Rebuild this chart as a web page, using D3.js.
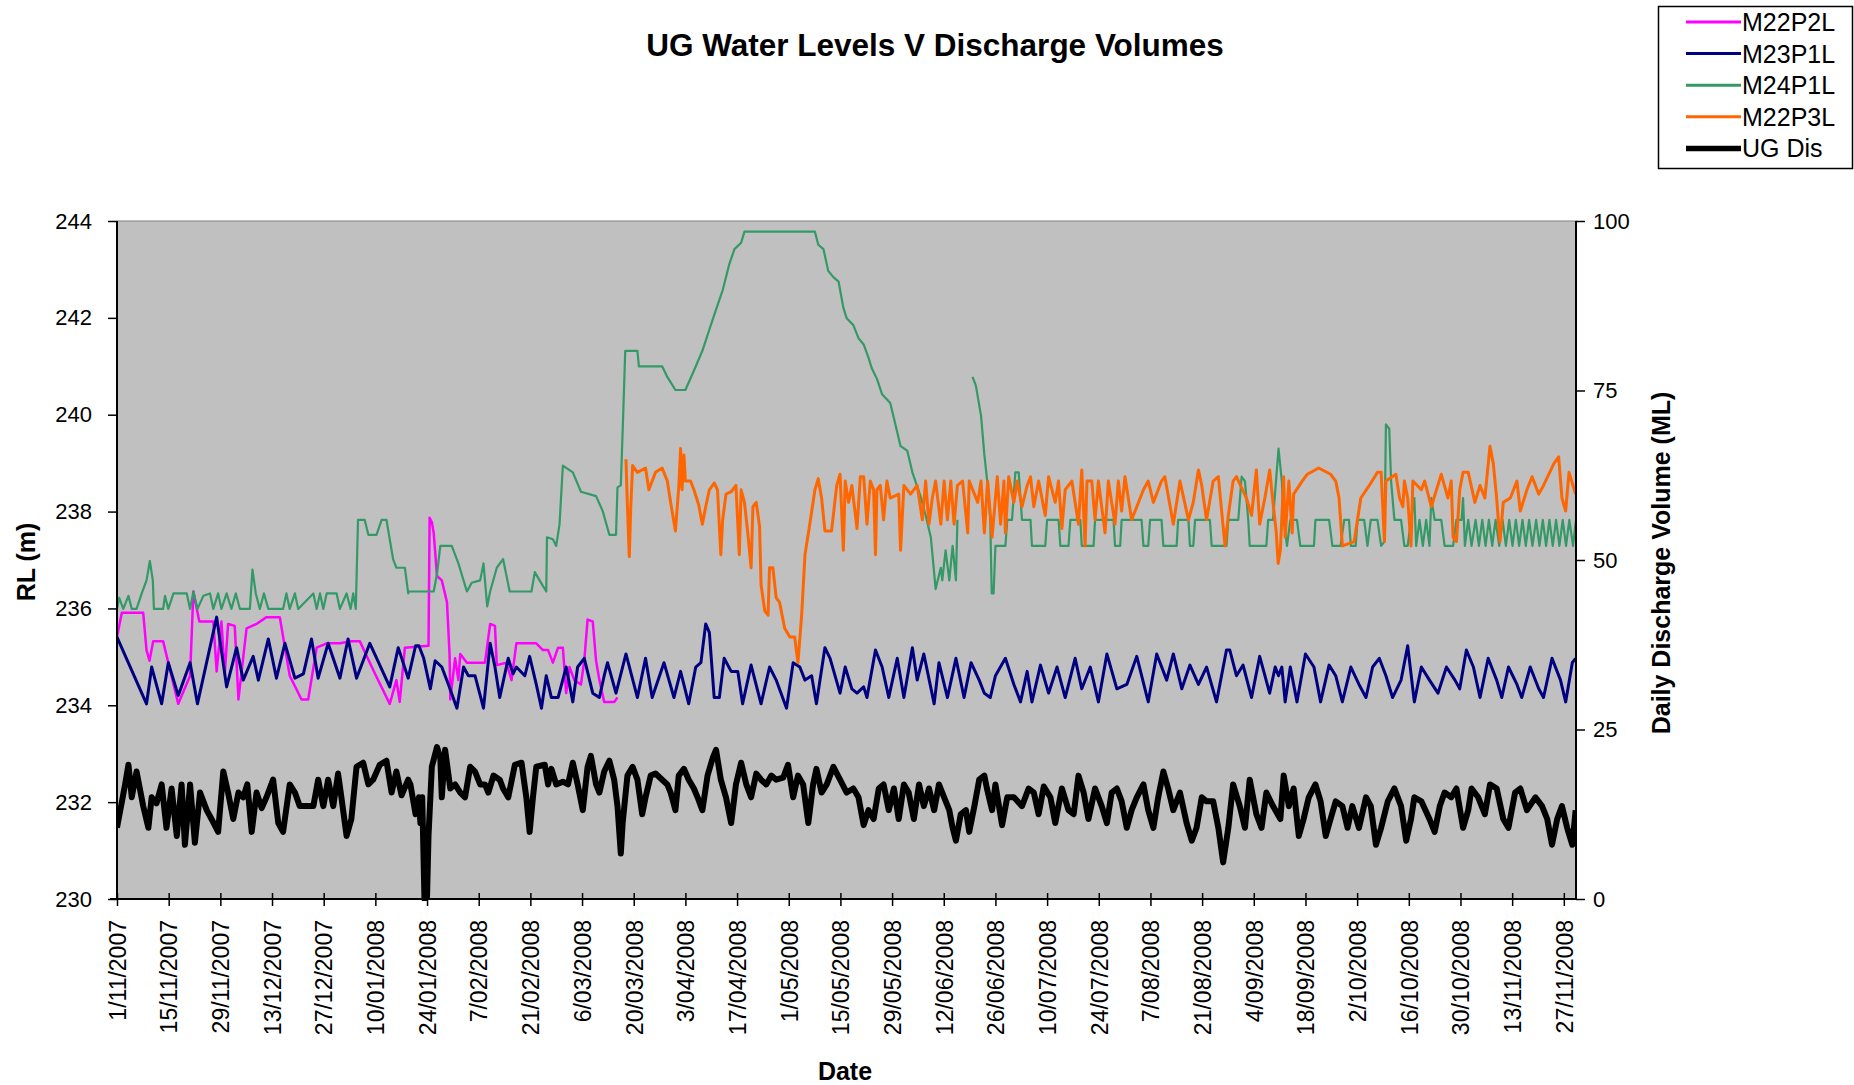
<!DOCTYPE html>
<html><head><meta charset="utf-8">
<script src="https://cdn.jsdelivr.net/npm/d3@7"></script>
<style>
body{margin:0;background:#fff;}
svg{display:block;font-family:"Liberation Sans",Arial,sans-serif;}
</style></head><body>
<svg id="chart" width="1854" height="1085"></svg>
<script>
const chartTitle = "UG Water Levels V Discharge Volumes";
const seriesNames = ["M22P2L","M23P1L","M24P1L","M22P3L","UG Dis"];
const seriesColors = ["#FF00FF","#000080","#339966","#FF6600","#000000"];
const startDate = "1/11/2007";
const xTickLabels = ["1/11/2007","15/11/2007","29/11/2007","13/12/2007","27/12/2007","10/01/2008","24/01/2008","7/02/2008","21/02/2008","6/03/2008","20/03/2008","3/04/2008","17/04/2008","1/05/2008","15/05/2008","29/05/2008","12/06/2008","26/06/2008","10/07/2008","24/07/2008","7/08/2008","21/08/2008","4/09/2008","18/09/2008","2/10/2008","16/10/2008","30/10/2008","13/11/2008","27/11/2008"];
const leftTicks = [230,232,234,236,238,240,242,244];
const rightTicks = [0,25,50,75,100];

// [days since 1/11/2007, RL (m)]
const M22P2L = [[0,235.41],[1.3,235.91],[7.1,235.91],[8,235.14],[8.8,234.92],[9.8,235.32],[12.5,235.32],[16.6,234.03],[19.8,234.61],[20.7,236.35],[22.3,235.73],[26.1,235.73],[27,234.7],[28.3,235.73],[29.2,234.65],[30.1,235.68],[31.9,235.64],[32.9,234.12],[35.1,235.59],[37.8,235.68],[40.5,235.82],[44.1,235.82],[46.8,234.61],[50,234.12],[51.8,234.12],[54.1,235.19],[56.8,235.28],[60.4,235.28],[63.1,235.32],[65.8,235.32],[69.9,234.65],[73.9,234.03],[75.7,234.52],[76.6,234.07],[78,235.19],[84.4,235.23],[84.7,237.87],[85.3,237.78],[85.8,237.56],[86.7,236.67],[88,236.58],[89.4,236.13],[90.1,235.06],[90.3,234.12],[91.6,234.97],[92.5,234.52],[93,235.06],[94.8,234.88],[99.7,234.88],[101.1,235.68],[102.4,235.64],[102.9,234.83],[105.5,234.88],[106.9,234.52],[108.2,235.28],[113.6,235.28],[115.4,235.14],[116.8,235.14],[118.1,234.88],[119.5,235.19],[120.8,235.19],[121.7,234.25],[122.6,234.79],[123.9,234.52],[125.7,234.43],[126.6,234.92],[127.5,235.77],[128.9,235.73],[129.8,234.92],[130.7,234.52],[132,234.07],[134.7,234.07],[135.6,234.16]];

const M23P1L = [[0,235.41],[8,234.03],[9.4,234.79],[12.1,234.03],[13.9,234.88],[16.6,234.2],[19.8,234.88],[21.8,234.03],[27,235.82],[29.7,234.38],[32.4,235.19],[34.2,234.52],[36.9,235.01],[38.3,234.52],[41,235.37],[43.2,234.56],[45.5,235.28],[48.2,234.56],[50.5,234.65],[52.7,235.37],[54.5,234.56],[57.2,235.28],[60.4,234.56],[62.6,235.37],[64.9,234.56],[68.5,235.28],[73.9,234.38],[76.2,235.19],[78.9,234.56],[80.9,235.23],[81.8,235.23],[83.1,234.97],[84.9,234.34],[86.2,234.92],[88,234.79],[89.8,234.43],[92.1,233.94],[93.9,234.79],[95.2,234.61],[97,234.61],[99.3,233.94],[101.1,235.28],[102.4,234.79],[103.7,234.16],[106,234.97],[107.3,234.65],[108.2,234.79],[110.5,234.61],[111.8,235.01],[113.6,234.43],[115,233.94],[116.3,234.61],[117.7,234.16],[119.5,234.16],[121.7,234.79],[123.5,234.07],[124.8,234.79],[126.6,234.97],[128.9,234.25],[130.7,234.16],[132,234.61],[132.9,234.88],[135.2,234.25],[137.9,235.06],[141,234.16],[143.2,234.97],[145,234.16],[148.2,234.88],[150.9,234.16],[152.7,234.7],[154.9,234.03],[156.8,234.79],[158.2,234.88],[159.5,235.68],[160.5,235.5],[161.8,234.16],[163.2,234.16],[164.5,234.97],[166.4,234.7],[168.2,234.7],[169.5,234.03],[171.8,234.83],[174.5,234.03],[176.8,234.79],[178.6,234.52],[181.4,233.94],[183.2,234.88],[185,234.79],[186.4,234.52],[188.2,234.61],[189.5,234.03],[191.8,235.19],[193.2,234.97],[195.9,234.25],[197.3,234.79],[199.1,234.34],[200.5,234.25],[202.3,234.38],[203.2,234.16],[205.5,235.14],[207.3,234.79],[209.1,234.16],[211.4,234.97],[213.2,234.16],[215.5,235.19],[216.8,234.52],[218.6,235.06],[221.4,234.03],[222.7,234.88],[225,234.16],[227.3,234.97],[229.5,234.16],[231.4,234.88],[233.6,234.52],[235,234.25],[236.6,234.16],[238,234.61],[240.7,234.97],[243,234.43],[244.8,234.07],[246.6,234.7],[247.9,234.07],[250.2,234.83],[252.4,234.25],[254.7,234.79],[256.9,234.16],[259.6,234.97],[261.4,234.34],[263.7,234.79],[265.9,234.07],[268.2,235.06],[270.9,234.34],[273.6,234.43],[276.3,235.01],[279.4,234.07],[281.7,235.06],[284.4,234.52],[286.2,235.06],[288.5,234.34],[290.7,234.83],[293,234.43],[295.2,234.79],[297.9,234.07],[300.6,235.14],[301.5,235.14],[303.3,234.61],[305.1,234.83],[307.4,234.16],[309.6,235.01],[312.3,234.25],[313.8,234.79],[314.7,234.61],[315.6,234.79],[316.5,234.07],[317.9,234.79],[318.8,234.43],[319.7,234.07],[322,235.06],[324.3,234.79],[326.1,234.07],[328.4,234.83],[330.2,234.61],[332,234.07],[334.3,234.79],[336.5,234.43],[338.4,234.16],[340.2,234.79],[342,234.97],[343.8,234.61],[345.6,234.16],[347.9,234.52],[349.7,235.23],[351.5,234.07],[353.4,234.79],[355.6,234.52],[357.9,234.25],[360.2,234.79],[362.5,234.52],[363.8,234.34],[365.6,235.14],[367.5,234.79],[369.3,234.16],[371.5,234.97],[373.8,234.52],[375.2,234.16],[377,234.79],[379.3,234.43],[380.6,234.16],[382.9,234.79],[385.2,234.34],[386.5,234.16],[388.8,234.97],[391.1,234.52],[392.5,234.07],[394.3,234.88],[395.2,234.97]];

const M24P1L = [[0,235.99],[0.6,236.22],[1.7,235.99],[3.1,236.26],[4,235.99],[5.3,235.99],[6.7,236.31],[8,236.58],[8.9,236.98],[9.7,236.58],[10,235.99],[12.5,235.99],[13,236.26],[13.9,235.99],[15.3,236.31],[18.9,236.31],[19.8,235.99],[20.7,236.35],[21.8,235.99],[23.4,236.26],[25.2,236.31],[26.1,235.99],[27.4,236.31],[28.3,235.99],[29.7,236.31],[31,235.99],[32.2,236.31],[33.3,235.99],[36,235.99],[36.7,236.8],[37.6,236.31],[38.7,235.99],[39.8,236.31],[41,235.99],[45,235.99],[45.9,236.31],[46.8,235.99],[48.2,236.31],[49.1,235.99],[53.2,236.31],[54.1,235.99],[55,236.31],[55.9,235.99],[56.8,236.31],[59.5,236.31],[60.4,235.99],[62.2,236.31],[63.3,235.99],[64,236.31],[64.7,235.99],[65.3,237.83],[67.1,237.83],[68.1,237.52],[70.3,237.52],[71.7,237.83],[73,237.83],[74.8,237.02],[75.7,236.84],[78,236.84],[78.9,236.31],[79.1,236.35],[85.8,236.35],[86.7,236.71],[87.6,237.29],[90.7,237.29],[92.5,236.93],[94.8,236.35],[96.1,236.53],[98.4,236.58],[99.3,236.93],[100.3,236.04],[101.1,236.35],[102.9,236.84],[104.6,237.02],[106.4,236.35],[112.3,236.35],[113.2,236.75],[114.5,236.58],[116.3,236.35],[116.5,237.47],[118.1,237.43],[119,237.29],[119.9,237.74],[120.8,238.95],[123.5,238.81],[125.7,238.41],[129.8,238.32],[131.6,238.01],[133.4,237.52],[135.2,237.52],[135.6,238.5],[136.5,238.54],[137.1,239.89],[137.7,241.32],[141,241.32],[141.4,241],[147.7,241],[149.1,240.78],[151.3,240.51],[154,240.51],[155.8,240.82],[157.6,241.14],[158.6,241.32],[160.5,241.76],[162.3,242.17],[164.1,242.57],[165.9,243.11],[167.3,243.42],[169.1,243.55],[170,243.78],[189.1,243.78],[190,243.51],[191.4,243.42],[192.7,242.97],[194.1,242.84],[195.5,242.75],[196.8,242.21],[197.7,241.99],[199.5,241.85],[200.9,241.58],[202.3,241.45],[203.6,241.18],[204.5,240.96],[205.9,240.74],[207.3,240.42],[209.5,240.24],[210.9,239.8],[212.3,239.35],[214.1,239.26],[215.5,238.81],[217.7,238.32],[219.1,237.92],[220.5,237.47],[221.8,236.4],[223.2,236.84],[223.6,236.58],[224.5,237.2],[225.5,236.58],[226.4,237.29],[227.3,236.58],[227.7,237.83],[229,null],[231.8,240.78],[232.7,240.6],[234.1,239.98],[235,239.17],[235.9,238.54],[236.6,237.83],[237,236.31],[237.5,236.31],[238,237.29],[240.7,237.29],[241.2,237.83],[242.5,237.83],[243.4,238.81],[244.3,238.81],[245.2,237.83],[247.5,237.83],[247.9,237.29],[251.5,237.29],[252,237.83],[255.1,237.83],[255.6,237.29],[257.8,237.29],[258.3,237.83],[261,237.83],[261.4,237.29],[264.6,237.29],[265,237.83],[270,237.83],[270.4,237.29],[271.8,237.29],[272.2,237.83],[277.6,237.83],[278.1,237.29],[279.4,237.29],[279.9,237.83],[283,237.83],[283.5,237.29],[287.1,237.29],[287.5,237.83],[290.3,237.83],[290.7,237.29],[291.6,237.29],[292.1,237.83],[296.1,237.83],[296.6,237.29],[300.6,237.29],[301.1,237.83],[303.8,237.83],[304.7,238.72],[305.6,238.63],[306.5,237.83],[306.9,237.29],[311.4,237.29],[311.9,237.83],[313.2,237.83],[314.7,239.3],[315.6,238.63],[316.1,237.83],[317,237.29],[317.9,237.83],[319.7,237.83],[320.6,237.29],[324.3,237.29],[324.7,237.83],[328.4,237.83],[329.3,237.29],[331.5,237.29],[332.5,237.83],[333.8,237.83],[334.3,237.29],[335.6,237.29],[336.1,237.83],[337.9,237.83],[338.8,237.29],[339.7,237.83],[341.5,237.83],[342.5,237.29],[343.4,237.38],[343.8,239.8],[344.7,239.71],[345.2,238.63],[346.1,237.83],[347.9,237.83],[348.8,237.29],[349.7,237.29],[350.6,237.83],[351.5,238.28],[352,237.29],[352.9,237.83],[353.8,237.29],[354.7,237.83],[355.6,237.29],[356.1,238.28],[357,237.83],[358.8,237.83],[359.7,237.29],[362,237.29],[362.9,237.83],[364.3,237.83],[364.7,238.28],[365.2,237.29],[366.1,237.83],[367,237.29],[368.1,237.83],[369,237.29],[369.9,237.83],[370.8,237.29],[371.7,237.83],[372.6,237.29],[373.5,237.83],[374.5,237.29],[375.4,237.83],[376.3,237.29],[377.2,237.83],[378.1,237.29],[379,237.83],[379.9,237.29],[380.8,237.83],[381.7,237.29],[382.6,237.83],[383.5,237.29],[384.5,237.83],[385.4,237.29],[386.3,237.83],[387.2,237.29],[388.1,237.83],[389,237.29],[389.9,237.83],[390.8,237.29],[391.7,237.83],[392.6,237.29],[393.5,237.83],[394.5,237.29],[395.3,237.83]];

const M22P3L = [[137.9,239.08],[138.3,238.1],[138.8,237.07],[139.2,238.1],[139.7,238.95],[141,238.81],[143.2,238.9],[144.1,238.45],[145,238.63],[145.9,238.81],[147.7,238.9],[149.1,238.63],[150,238.19],[151.3,237.6],[152.2,238.5],[152.7,239.3],[153.1,238.45],[153.6,239.17],[154,238.63],[155.4,238.63],[156.3,238.45],[157.6,238.14],[158.6,237.74],[159.5,238.1],[160.5,238.45],[161.8,238.59],[162.7,238.45],[163.6,237.11],[164.1,237.83],[165,238.36],[166.4,238.41],[167.7,238.54],[168.6,237.11],[169.1,238.45],[170,238.19],[170.9,237.56],[171.8,236.84],[172.3,238.1],[173.2,238.19],[174.1,237.69],[174.5,236.49],[175.5,235.95],[176.4,235.86],[176.8,236.84],[177.7,236.84],[178.6,236.22],[179.5,236.13],[180.9,235.59],[182.3,235.41],[183.6,235.41],[184.5,234.88],[185.5,235.86],[186.4,237.11],[187.7,237.74],[189.1,238.45],[190,238.68],[190.9,238.28],[191.8,237.6],[193.6,237.6],[195,238.54],[195.9,238.77],[196.8,237.2],[197.3,238.63],[198.2,238.19],[199.1,238.54],[200.5,237.65],[201.4,238.72],[202.3,238.72],[203.2,237.74],[204.1,238.63],[205,238.45],[205.5,237.11],[205.9,238.45],[206.8,238.54],[207.7,237.83],[208.6,238.63],[209.5,238.28],[211.8,238.36],[212.3,237.2],[213.2,238.54],[215,238.36],[216.8,238.54],[218.2,237.83],[219.1,238.63],[220,237.74],[220.9,238.28],[221.8,238.63],[223.2,237.74],[224.1,238.63],[225,237.83],[225.9,238.63],[226.8,237.74],[227.7,238.54],[229.1,238.63],[230.5,237.56],[230.9,238.63],[233.2,238.19],[234.1,238.63],[235,237.56],[235.9,238.63],[237.1,237.47],[238.5,238.72],[239.4,237.74],[240.3,238.63],[240.7,237.56],[241.6,238.72],[243,238.19],[243.9,238.63],[245.2,238.1],[246.6,238.54],[247.5,238.72],[248.4,238.1],[249.7,238.63],[251.5,237.92],[252.4,238.72],[254.2,238.19],[255.1,238.63],[256,237.65],[256.9,238.45],[258.7,238.63],[260.5,237.74],[261.4,238.86],[262.3,237.29],[262.8,238.63],[264.1,238.63],[265,237.83],[265.9,238.63],[267.7,237.56],[268.6,238.63],[270.4,237.74],[271.3,238.63],[272.2,238.01],[273.1,238.72],[274.9,237.83],[276.3,238.1],[278.1,238.45],[279.4,238.63],[280.8,238.19],[283,238.63],[283.9,238.72],[286.2,237.74],[288,238.63],[290.3,237.83],[291.6,238.19],[293,238.86],[293.9,238.54],[295.2,237.83],[297,238.63],[298.4,238.72],[300.2,237.29],[301.1,237.92],[302.4,238.63],[303.3,238.72],[306,238.28],[307.4,237.92],[308.7,238.86],[309.6,237.74],[311,238.28],[312.3,238.86],[313.2,238.19],[314.1,237.56],[314.6,236.93],[315.2,237.2],[316.1,238.72],[316.5,237.47],[317.5,238.63],[318.4,237.56],[318.8,238.36],[321.1,238.63],[322.5,238.77],[325.6,238.9],[328.8,238.77],[330.2,238.63],[331.1,238.28],[332,237.29],[335.2,237.38],[336.1,237.83],[337,238.28],[339.3,238.54],[341.5,238.81],[342.5,238.81],[343.4,237.38],[343.8,238.63],[346.5,238.77],[347.5,238.28],[348.4,238.1],[348.8,238.63],[349.7,238.28],[350.6,237.29],[351.1,238.63],[353.4,238.45],[354.3,238.63],[356.1,238.1],[357.5,238.45],[358.8,238.77],[360.6,238.28],[361.5,238.63],[362,237.47],[362.9,237.38],[363.8,238.45],[364.7,238.81],[366.1,238.81],[367.9,238.19],[369.3,238.54],[370.6,238.28],[372,239.35],[372.9,238.99],[373.8,238.28],[374.7,237.38],[375.6,238.19],[377.5,238.28],[379.3,238.63],[380.2,238.01],[382,238.45],[383.4,238.72],[385.2,238.36],[386.5,238.54],[389.3,238.99],[390.6,239.13],[391.5,238.28],[392.5,238.01],[393.4,238.81],[395.2,238.36]];

// [days since 1/11/2007, Daily discharge (ML)]
const UGDis = [[0,10.5],[2.2,16.9],[3.1,19.8],[4,15],[5.3,18.8],[7.1,13.7],[8.5,10.5],[9.4,15],[10.7,14.1],[12.1,16.9],[13.4,10.5],[14.8,16.3],[16.2,9.3],[17.5,16.9],[18.4,8],[19.8,16.9],[21.1,8.3],[22.5,15.7],[24.3,13.1],[25.6,11.8],[27.4,9.9],[28.8,18.8],[30.1,15.7],[31.5,11.8],[32.9,15.7],[34.2,15],[35.3,16.9],[36.5,9.9],[37.8,15.7],[39.2,13.4],[40.5,15],[42.3,17.6],[43.7,11.2],[45,9.9],[46.8,16.9],[48.2,15.7],[49.5,13.7],[51.4,13.7],[53.2,13.7],[54.5,17.6],[55.9,13.7],[57.2,17.6],[58.6,13.7],[59.9,18.5],[60.8,15],[62.2,9.3],[63.5,11.8],[64.9,19.5],[66.7,20.1],[68.1,16.9],[69.4,17.6],[71.2,19.8],[73,20.4],[74.4,15.7],[75.7,18.8],[77.1,15.3],[78.9,17.6],[79.5,16.9],[80.9,12.5],[81.8,15],[82.2,11.2],[82.7,15],[83.3,0],[84,0.3],[84.4,9.3],[85.3,19.5],[86.7,22.4],[87.6,20.8],[88,15],[88.9,22],[90.3,16.3],[91.6,16.9],[93,15.7],[94.3,15],[95.7,19.5],[97,18.8],[98.4,16.9],[99.7,16.9],[100.6,15.7],[102,18.2],[103.7,17.6],[104.6,16.3],[106,15],[107.8,19.8],[109.6,20.1],[110.9,15],[111.8,9.9],[112.7,15],[113.6,19.5],[115.9,19.8],[116.8,16.9],[117.7,19.2],[119,16.9],[120.8,17.3],[122.2,16.9],[123.5,20.1],[124.8,16.9],[126.2,13.1],[127.5,19.5],[128.4,21.1],[129.8,16.9],[130.7,15.7],[132,18.8],[133.4,20.4],[134.7,17.6],[135.6,13.7],[136.5,6.7],[137,11.2],[138.3,18.2],[139.7,19.5],[141,17.6],[142.3,12.5],[143.2,15],[144.6,18.2],[145.9,18.5],[147.7,17.6],[149.1,16.9],[150,15.7],[151.3,13.1],[152.2,18.2],[153.6,19.2],[154.9,17.6],[156.3,16.3],[157.3,15],[158.6,13.1],[160,18.2],[161.4,20.8],[162.3,22],[163.6,17.6],[165,15],[166.4,11.2],[167.7,16.9],[169.1,20.1],[170.5,16.9],[171.8,15],[173.2,18.5],[174.5,17.6],[175.9,16.9],[177.3,18.2],[178.6,17.6],[180.5,17.9],[181.8,19.8],[183.2,15],[184.5,18.2],[185.9,16.9],[187.3,11.2],[188.6,16.9],[189.5,19.2],[190.9,15.7],[192.3,16.9],[194.1,19.5],[195.9,17.6],[197.7,15.7],[199.5,16.3],[200.9,15],[202.3,10.9],[203.6,13.1],[205,11.8],[206.4,16.3],[207.7,16.9],[209.1,13.1],[210.5,16.3],[211.8,11.8],[213.2,16.9],[214.5,15.7],[215.9,11.8],[217.3,16.9],[218.6,13.7],[220,16.3],[221.4,13.1],[222.7,16.9],[224.1,15],[225.5,13.1],[226.4,10.5],[227.3,8.6],[228.6,12.5],[230,13.1],[230.9,9.9],[232.3,13.7],[233.6,17.6],[235,18.2],[235.7,16.3],[237.1,13.1],[238,16.9],[239.8,10.9],[241.2,15],[243,15],[245.2,13.7],[247,16.3],[248.4,15.7],[249.7,12.5],[251.1,16.6],[252.9,15],[254.2,11.2],[256,16.3],[257.8,13.1],[259.2,12.5],[260.5,18.2],[261.9,15.7],[263.2,11.8],[265,16.3],[266.8,13.7],[268.2,11.2],[269.5,15.7],[270.9,16.3],[272.2,14.4],[273.6,10.5],[274.9,13.1],[276.3,15],[278.1,16.9],[279.4,13.1],[280.8,10.5],[282.1,15],[283.5,18.8],[284.8,16.3],[286.2,13.1],[288,15.7],[289.8,11.2],[291.2,8.6],[292.5,10.5],[293.9,15],[295.2,14.4],[297,14.4],[298.4,10.5],[299.7,5.4],[301.1,10.5],[302.4,16.9],[304.2,13.7],[305.6,10.5],[306.9,17.6],[308.7,12.5],[310.1,10.5],[311.4,15.7],[313.2,13.7],[315.2,11.8],[316.1,18.2],[317.5,13.7],[318.8,16.3],[320.2,9.3],[321.5,11.8],[322.9,15],[324.7,16.9],[326.1,14.4],[327.5,9.3],[328.8,11.8],[330.2,14.4],[332,13.7],[333.4,10.5],[334.7,13.7],[336.5,10.5],[338.4,15],[339.7,13.7],[341.1,8],[342.5,10.5],[344.3,14.4],[346.1,16.3],[347.9,13.7],[349.3,8.6],[350.6,11.8],[351.5,15],[353.4,14.4],[355.6,11.8],[357,9.9],[358.4,13.7],[359.7,15.7],[361.5,15],[362.9,16.3],[364.7,10.5],[366.1,13.1],[367,16.3],[368.8,15],[370.6,12.5],[372,16.9],[373.8,16.3],[375.6,11.8],[377,10.5],[378.8,15.7],[380.2,16.3],[382,13.1],[384.3,15],[386.1,13.7],[387.5,11.8],[388.8,8],[390.2,11.8],[391.5,13.7],[392.9,10.5],[394.3,8],[395.2,13.1]];

const svg = d3.select("#chart");
const L = 117, R = 1576, T = 221, B = 899;
const parse = d3.utcParse("%d/%m/%Y");
const t0 = parse(startDate);
const toDate = d => new Date(t0.getTime() + d * 864e5);
const x = d3.scaleUtc().domain([t0, toDate(395.3)]).range([L, R]);
const yL = d3.scaleLinear().domain([230, 244]).range([B, T]);
const yR = d3.scaleLinear().domain([0, 100]).range([B, T]);

// plot area
svg.append("rect").attr("x", L).attr("y", T).attr("width", R - L).attr("height", B - T)
  .attr("fill", "#C0C0C0").attr("stroke", "#808080").attr("stroke-width", 1);

svg.append("defs").append("clipPath").attr("id", "clip")
  .append("rect").attr("x", L).attr("y", T - 2).attr("width", R - L).attr("height", B - T + 4);

const plot = svg.append("g").attr("clip-path", "url(#clip)");
const lineL = d3.line().defined(d => d[1] != null).x(d => x(toDate(d[0]))).y(d => yL(d[1]));
const lineR = d3.line().defined(d => d[1] != null).x(d => x(toDate(d[0]))).y(d => yR(d[1]));
const series = [
  {data: M22P2L, line: lineL, color: seriesColors[0], w: 2.5},
  {data: M23P1L, line: lineL, color: seriesColors[1], w: 3},
  {data: M24P1L, line: lineL, color: seriesColors[2], w: 2.2},
  {data: M22P3L, line: lineL, color: seriesColors[3], w: 3},
  {data: UGDis, line: lineR, color: seriesColors[4], w: 6}
];
series.forEach(s => {
  plot.append("path").datum(s.data).attr("d", s.line).attr("fill", "none")
    .attr("stroke", s.color).attr("stroke-width", s.w).attr("stroke-linejoin", "round");
});

// left axis
const gL = svg.append("g").attr("transform", `translate(${L},0)`)
  .call(d3.axisLeft(yL).tickValues(leftTicks).tickSize(9).tickPadding(16).tickFormat(d3.format("d")));
gL.select(".domain").remove();
gL.selectAll("text").attr("font-size", 22).attr("font-family", "Liberation Sans, Arial, sans-serif").attr("fill", "#000");
gL.selectAll("line").attr("stroke", "#000").attr("stroke-width", 1.5);
svg.append("line").attr("x1", L).attr("x2", L).attr("y1", T).attr("y2", B).attr("stroke", "#000").attr("stroke-width", 2);

// right axis
const gR = svg.append("g").attr("transform", `translate(${R},0)`)
  .call(d3.axisRight(yR).tickValues(rightTicks).tickSize(9).tickPadding(8).tickFormat(d3.format("d")));
gR.select(".domain").remove();
gR.selectAll("text").attr("font-size", 22).attr("font-family", "Liberation Sans, Arial, sans-serif").attr("fill", "#000");
gR.selectAll("line").attr("stroke", "#000").attr("stroke-width", 1.5);
svg.append("line").attr("x1", R).attr("x2", R).attr("y1", T).attr("y2", B).attr("stroke", "#000").attr("stroke-width", 2);

// bottom axis
const xTickDates = xTickLabels.map(parse);
const gB = svg.append("g").attr("transform", `translate(0,${B})`)
  .call(d3.axisBottom(x).tickValues(xTickDates).tickSize(7).tickFormat((d, i) => xTickLabels[i]));
gB.select(".domain").remove();
gB.selectAll("line").attr("y1", -6).attr("y2", 7).attr("stroke", "#000").attr("stroke-width", 1.5);
gB.selectAll("text")
  .attr("transform", "rotate(-90)").attr("x", -21).attr("y", 0).attr("dy", "0.36em")
  .attr("text-anchor", "end").attr("font-size", 23).attr("font-family", "Liberation Sans, Arial, sans-serif").attr("fill", "#000");
svg.append("line").attr("x1", L - 7).attr("x2", R).attr("y1", B).attr("y2", B).attr("stroke", "#000").attr("stroke-width", 2);

// titles
svg.append("text").attr("x", 935).attr("y", 56).attr("text-anchor", "middle")
  .attr("font-size", 31.5).attr("font-weight", "bold").text(chartTitle);
svg.append("text").attr("transform", "translate(35,562) rotate(-90)").attr("text-anchor", "middle")
  .attr("font-size", 25).attr("font-weight", "bold").text("RL (m)");
svg.append("text").attr("transform", "translate(1670,563) rotate(-90)").attr("text-anchor", "middle")
  .attr("font-size", 25).attr("font-weight", "bold").text("Daily Discharge Volume (ML)");
svg.append("text").attr("x", 845).attr("y", 1080).attr("text-anchor", "middle")
  .attr("font-size", 25).attr("font-weight", "bold").text("Date");

// legend
const leg = svg.append("g");
leg.append("rect").attr("x", 1658.5).attr("y", 6.5).attr("width", 194).attr("height", 162)
  .attr("fill", "#fff").attr("stroke", "#000").attr("stroke-width", 1.5);
seriesNames.forEach((n, i) => {
  const yy = 22 + i * 31.6;
  leg.append("line").attr("x1", 1686).attr("x2", 1741).attr("y1", yy).attr("y2", yy)
    .attr("stroke", seriesColors[i]).attr("stroke-width", i === 4 ? 5.5 : 3);
  leg.append("text").attr("x", 1742).attr("y", yy).attr("dy", "0.36em")
    .attr("font-size", 25).text(n);
});
</script>
</body></html>
